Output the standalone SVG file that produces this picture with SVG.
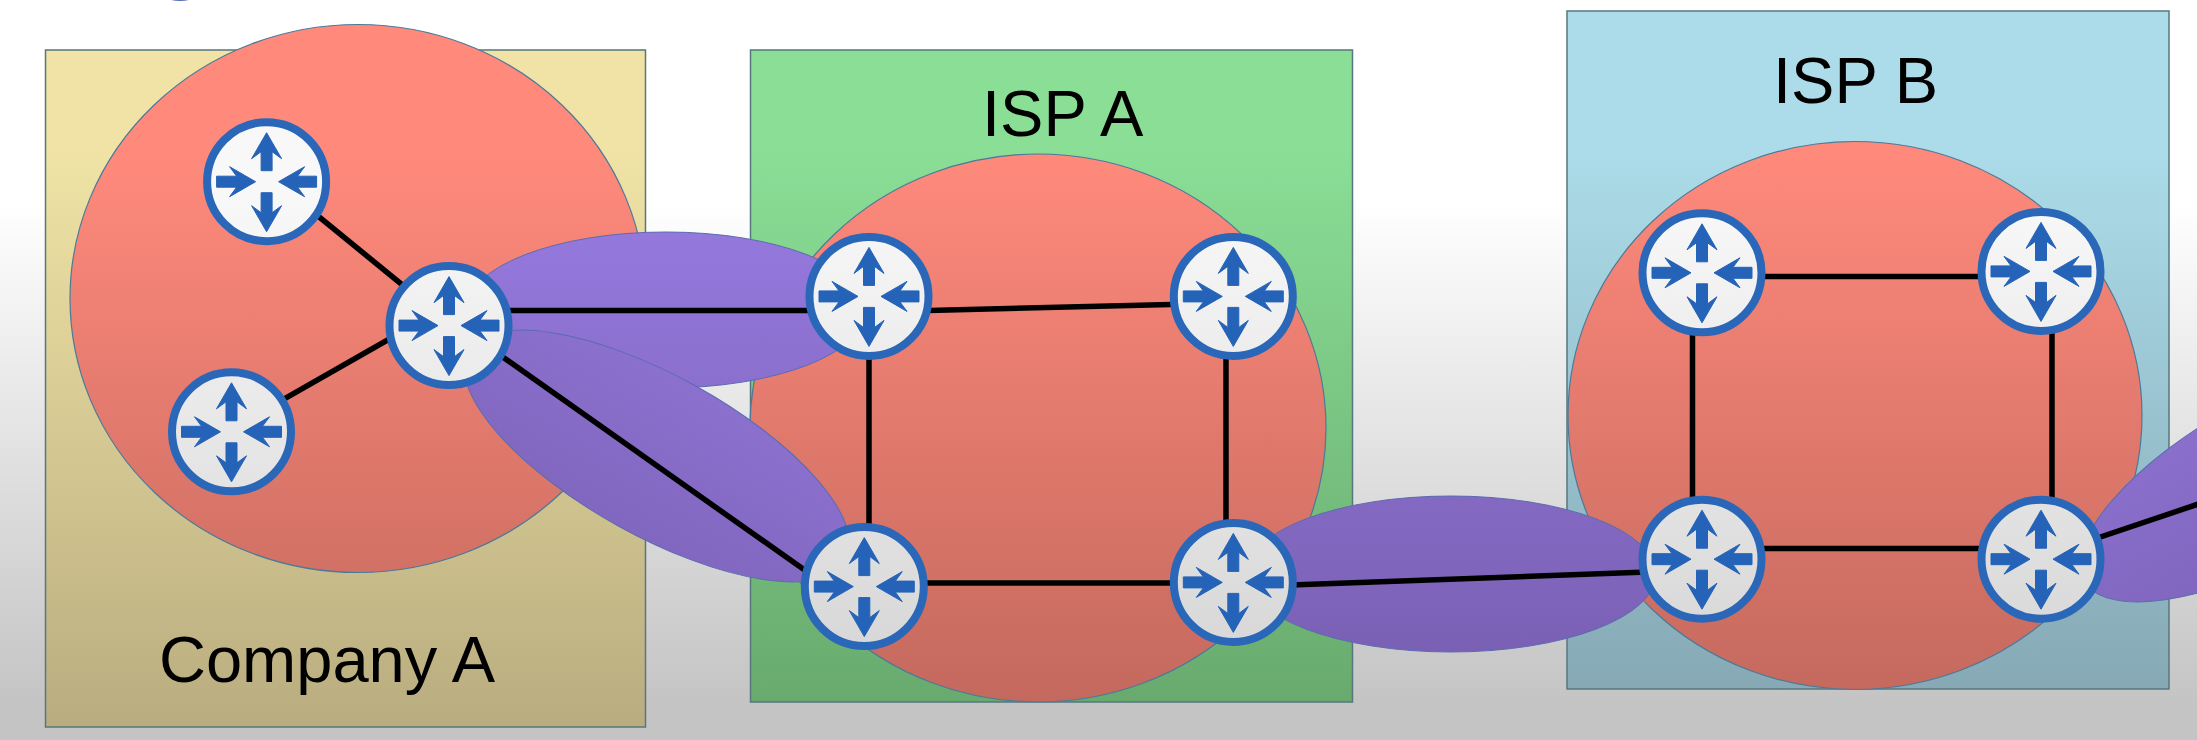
<svg xmlns="http://www.w3.org/2000/svg" xmlns:xlink="http://www.w3.org/1999/xlink" width="2197" height="740" viewBox="0 0 2197 740">
<style>
.box{stroke:#55777f;stroke-width:1.5}
.as{stroke:#4a7a9a;stroke-width:1.2}
.tun{fill:url(#gP);stroke:#5a6cb0;stroke-width:1}
.link{stroke:#000;stroke-width:5.5;fill:none;stroke-linecap:butt}
.label{font-family:"Liberation Sans",Arial,sans-serif;font-size:65px;fill:#000}
.rb{fill:url(#gW);stroke:#2a67b8;stroke-width:8}
.ra{fill:#2563b8;stroke:#2563b8;stroke-width:1}
</style>
<defs>
<linearGradient id="gBg" gradientUnits="userSpaceOnUse" x1="0" y1="200" x2="0" y2="705"><stop offset="0" stop-color="#fff"/><stop offset="1" stop-color="#c4c4c4"/></linearGradient>
<linearGradient id="gY" gradientUnits="userSpaceOnUse" x1="0" y1="150" x2="0" y2="727"><stop offset="0" stop-color="#f0e3a5"/><stop offset="1" stop-color="#b9ad80"/></linearGradient>
<linearGradient id="gG" gradientUnits="userSpaceOnUse" x1="0" y1="150" x2="0" y2="727"><stop offset="0" stop-color="#8ade96"/><stop offset="1" stop-color="#67a86c"/></linearGradient>
<linearGradient id="gB" gradientUnits="userSpaceOnUse" x1="0" y1="150" x2="0" y2="700"><stop offset="0" stop-color="#acdce9"/><stop offset="1" stop-color="#85a8b4"/></linearGradient>
<linearGradient id="gR" gradientUnits="userSpaceOnUse" x1="0" y1="150" x2="0" y2="700"><stop offset="0" stop-color="#ff8a7c"/><stop offset="1" stop-color="#c4695e"/></linearGradient>
<linearGradient id="gP" gradientUnits="userSpaceOnUse" x1="0" y1="230" x2="0" y2="660"><stop offset="0" stop-color="#9478dc"/><stop offset="1" stop-color="#7a60b4"/></linearGradient>
<linearGradient id="gW" gradientUnits="userSpaceOnUse" x1="0" y1="200" x2="0" y2="700"><stop offset="0" stop-color="#f8f8f8"/><stop offset="1" stop-color="#d4d4d4"/></linearGradient>
<g id="arrows" class="ra">
<polygon points="0,-49 15,-23 5.5,-30 5.5,-11 -5.5,-11 -5.5,-30 -15,-23"/>
<polygon points="0,50 15,24 5.5,31 5.5,11 -5.5,11 -5.5,31 -15,24"/>
<polygon points="-11,0 -37,-15 -30,-5.5 -50,-5.5 -50,5.5 -30,5.5 -37,15"/>
<polygon points="12,0 38,-15 31,-5.5 50,-5.5 50,5.5 31,5.5 38,15"/>
</g>
</defs>
<rect width="2197" height="740" fill="url(#gBg)"/>
<ellipse cx="180" cy="-9" rx="20" ry="10" fill="#5a6cb0"/>
<g id="company-a">
<rect class="box" x="45.5" y="50" width="600" height="677" fill="url(#gY)"/>
<ellipse class="as" cx="358" cy="298.5" rx="288" ry="274" fill="url(#gR)"/>
<text class="label" x="159" y="682">Company A</text>
</g>
<g id="isp-a">
<rect class="box" x="750.5" y="50" width="602" height="652" fill="url(#gG)"/>
<ellipse class="as" cx="1038" cy="428" rx="288" ry="274" fill="url(#gR)"/>
<text class="label" x="982" y="136">ISP A</text>
</g>
<g id="isp-b">
<rect class="box" x="1567" y="11" width="602" height="678" fill="url(#gB)"/>
<ellipse class="as" cx="1855" cy="415.5" rx="287" ry="274" fill="url(#gR)"/>
<text class="label" x="1773" y="103">ISP B</text>
</g>
<g id="tunnels">
<ellipse class="tun" cx="666" cy="310" rx="200" ry="78"/>
<ellipse class="tun" cx="657" cy="456" rx="216" ry="80" transform="rotate(29 657 456)"/>
<ellipse class="tun" cx="1451" cy="574" rx="205" ry="78"/>
<ellipse class="tun" cx="2273" cy="476" rx="216" ry="80" transform="rotate(-29 2273 476)"/>
</g>
<g id="connectors">
<line class="link" x1="266.6" y1="174" x2="449" y2="323"/>
<line class="link" x1="231.5" y1="429" x2="449" y2="305"/>
<line class="link" x1="449" y1="310.5" x2="869" y2="310.5"/>
<line class="link" x1="449" y1="319" x2="864" y2="612"/>
<line class="link" x1="869" y1="312" x2="1233" y2="303"/>
<line class="link" x1="869" y1="296" x2="869" y2="587"/>
<line class="link" x1="1226" y1="296" x2="1226" y2="582"/>
<line class="link" x1="864" y1="583" x2="1233" y2="583"/>
<line class="link" x1="1233" y1="587" x2="1702" y2="570"/>
<line class="link" x1="1702" y1="276.5" x2="2041" y2="276.5"/>
<line class="link" x1="1702" y1="548.5" x2="2041" y2="548.5"/>
<line class="link" x1="1692.5" y1="273" x2="1692.5" y2="559"/>
<line class="link" x1="2052" y1="271" x2="2052" y2="559"/>
<line class="link" x1="2041" y1="557" x2="2200" y2="503.5"/>
</g>
<g id="r1"><circle class="rb" cx="266.6" cy="181.7" r="59.5"/><use href="#arrows" x="266.6" y="181.7"/></g>
<g id="r2"><circle class="rb" cx="231.5" cy="431.8" r="59.5"/><use href="#arrows" x="231.5" y="431.8"/></g>
<g id="r3"><circle class="rb" cx="449" cy="325.6" r="59.5"/><use href="#arrows" x="449" y="325.6"/></g>
<g id="r4"><circle class="rb" cx="869" cy="296.4" r="59.5"/><use href="#arrows" x="869" y="296.4"/></g>
<g id="r5"><circle class="rb" cx="864.3" cy="586.6" r="59.5"/><use href="#arrows" x="864.3" y="586.6"/></g>
<g id="r6"><circle class="rb" cx="1233.3" cy="296.4" r="59.5"/><use href="#arrows" x="1233.3" y="296.4"/></g>
<g id="r7"><circle class="rb" cx="1233.3" cy="582.4" r="59.5"/><use href="#arrows" x="1233.3" y="582.4"/></g>
<g id="r8"><circle class="rb" cx="1702" cy="272.8" r="59.5"/><use href="#arrows" x="1702" y="272.8"/></g>
<g id="r9"><circle class="rb" cx="2041" cy="271.4" r="59.5"/><use href="#arrows" x="2041" y="271.4"/></g>
<g id="r10"><circle class="rb" cx="1702" cy="559.2" r="59.5"/><use href="#arrows" x="1702" y="559.2"/></g>
<g id="r11"><circle class="rb" cx="2041" cy="559.2" r="59.5"/><use href="#arrows" x="2041" y="559.2"/></g>
</svg>
